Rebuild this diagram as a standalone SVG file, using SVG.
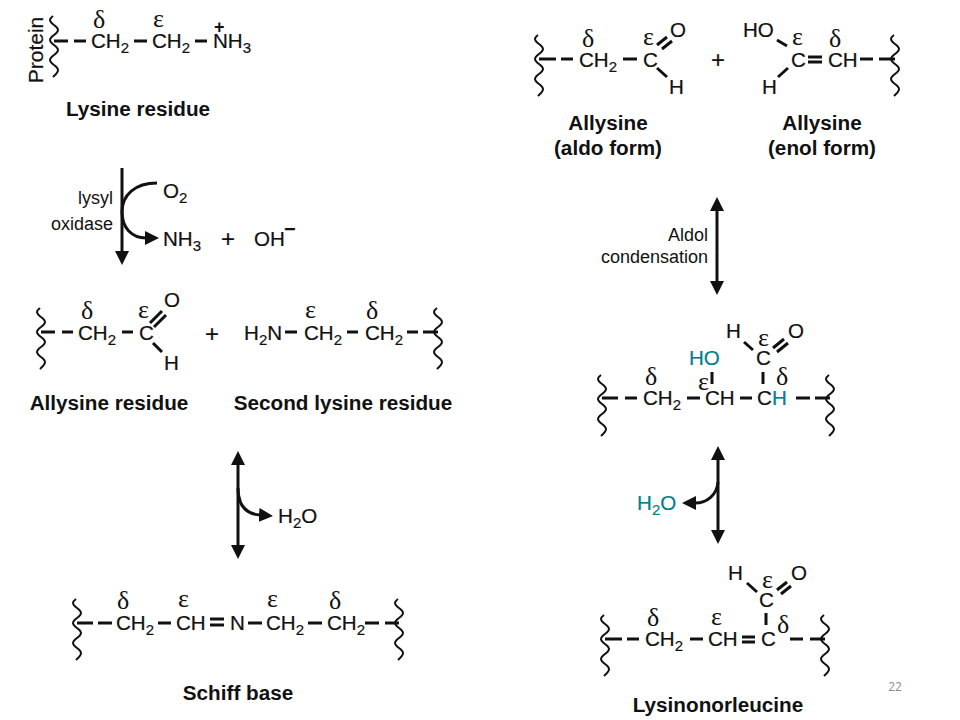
<svg xmlns="http://www.w3.org/2000/svg" xmlns:xlink="http://www.w3.org/1999/xlink" width="960" height="720" viewBox="0 0 960 720">
<style>
text{font-family:"Liberation Sans",Arial,sans-serif;fill:#111}
.a{font-size:20.6px;stroke:#111;stroke-width:.2}
.g{font-family:"Liberation Serif","DejaVu Serif",serif;font-size:26px}
.l{font-size:20.7px;font-weight:bold;text-anchor:middle}
.e{font-size:18px;text-anchor:end}
.p{font-size:24px}
.t{fill:#00808f;stroke:#00808f}
.s{font-size:15px}
.b{stroke:#111;stroke-width:3;fill:none}
.w{stroke:#111;stroke-width:2;fill:none}
.r{stroke:#111;stroke-width:3;fill:none}
.h{fill:#111}
</style>
<defs>
<path id="sq" class="w" d="M-1-30C-3-28.500-4-27.500-4-26C-4-22 4-20 4-16C4-12-4-10-4-6C-4-2 4 0 4 4C4 8-4 10-4 14C-4 18 4 20 4 24C4 27 1 29-1 31"/>
<marker id="ah" viewBox="0 0 14 14" refX="1" refY="7" markerWidth="14" markerHeight="14" markerUnits="userSpaceOnUse" orient="auto-start-reverse"><path class="h" d="M0 0L14 7L0 14Z"/></marker>
</defs>
<rect width="960" height="720" fill="#fff"/>

<g id="lysine-residue">
<text class="a" transform="translate(43 50) rotate(-90)" text-anchor="middle" style="font-size:21px">Protein</text>
<use href="#sq" x="54" y="46"/>
<path class="b" d="M54 41H68M74 41H86M134 41H147M195 41H207"/>
<text class="a" x="91" y="48">CH<tspan class="s" dy="5">2</tspan></text>
<text class="a" x="152" y="48">CH<tspan class="s" dy="5">2</tspan></text>
<text class="a" x="213" y="48">NH<tspan class="s" dy="5">3</tspan></text>
<text x="214" y="33" font-size="18" font-weight="bold">+</text>
<text class="g" x="93" y="28">δ</text>
<text class="g" x="153" y="27">ε</text>
<text class="l" x="138" y="116">Lysine residue</text>
</g>

<g id="lysyl-oxidase-step">
<text class="e" x="113" y="204">lysyl</text>
<text class="e" x="113" y="230">oxidase</text>
<text class="a" x="163" y="198">O<tspan class="s" dy="5">2</tspan></text>
<text class="a" x="163" y="246">NH<tspan class="s" dy="5">3</tspan></text>
<text class="a p" x="221" y="247">+</text>
<text class="a" x="254" y="246">OH</text>
<text x="284" y="236" font-size="20" font-weight="bold">−</text>
</g>

<g id="allysine-residue">
<use href="#sq" x="41" y="338"/>
<path class="b" d="M41 332H55M62 332H73M122 332H133M153 343L162 352M150 323L162 311M154 327L166 315"/>
<text class="a" x="78" y="340">CH<tspan class="s" dy="5">2</tspan></text>
<text class="a" x="139" y="340">C</text>
<text class="a" x="164" y="307">O</text>
<text class="a" x="164" y="370">H</text>
<text class="g" x="81" y="319">δ</text>
<text class="g" x="138" y="318">ε</text>
<text class="l" x="109" y="410">Allysine residue</text>
</g>
<text id="plus-1" class="a p" x="205" y="342">+</text>

<g id="second-lysine-residue">
<use href="#sq" x="438" y="338"/>
<path class="b" d="M285 332H297M347 332H358M407 332H418M423 332H438"/>
<text class="a" x="244" y="340">H<tspan class="s" dy="5">2</tspan><tspan dy="-5">N</tspan></text>
<text class="a" x="304" y="340">CH<tspan class="s" dy="5">2</tspan></text>
<text class="a" x="365" y="340">CH<tspan class="s" dy="5">2</tspan></text>
<text class="g" x="305" y="318">ε</text>
<text class="g" x="366" y="319">δ</text>
<text class="l" x="343" y="410">Second lysine residue</text>
</g>

<g id="water-1"><text class="a" x="278" y="523">H<tspan class="s" dy="5">2</tspan><tspan dy="-5">O</tspan></text></g>

<g id="schiff-base">
<use href="#sq" x="77" y="629"/>
<use href="#sq" x="399" y="629"/>
<path class="b" d="M77 623H93M98 623H112M158 623H171M210 619H224M210 625H224M248 623H262M308 623H322M365 623H379M385 623H399"/>
<text class="a" x="116" y="630">CH<tspan class="s" dy="5">2</tspan></text>
<text class="a" x="176" y="630">CH</text>
<text class="a" x="230" y="630">N</text>
<text class="a" x="266" y="630">CH<tspan class="s" dy="5">2</tspan></text>
<text class="a" x="327" y="630">CH<tspan class="s" dy="5">2</tspan></text>
<text class="g" x="117" y="609">δ</text>
<text class="g" x="178" y="607">ε</text>
<text class="g" x="267" y="607">ε</text>
<text class="g" x="329" y="609">δ</text>
<text class="l" x="238" y="700">Schiff base</text>
</g>

<g id="allysine-aldo">
<use href="#sq" x="539" y="65"/>
<path class="b" d="M539 59H556M561 59H573M623 59H637M657 68L667 77M657 45L667 37M662 49L672 41"/>
<text class="a" x="579" y="67">CH<tspan class="s" dy="5">2</tspan></text>
<text class="a" x="643" y="67">C</text>
<text class="a" x="670" y="37">O</text>
<text class="a" x="669" y="94">H</text>
<text class="g" x="582" y="47">δ</text>
<text class="g" x="643" y="45">ε</text>
<text class="l" x="608" y="130">Allysine</text>
<text class="l" x="608" y="155">(aldo form)</text>
</g>
<text id="plus-2" class="a p" x="711" y="68">+</text>

<g id="allysine-enol">
<use href="#sq" x="895" y="65"/>
<path class="b" d="M777 40L787 46M778 77L788 68M808 57H822M808 62H822M860 59H873M879 59H895"/>
<text class="a" x="743" y="37">HO</text>
<text class="a" x="762" y="94">H</text>
<text class="a" x="791" y="67">C</text>
<text class="a" x="828" y="67">CH</text>
<text class="g" x="792" y="45">ε</text>
<text class="g" x="829" y="47">δ</text>
<text class="l" x="822" y="130">Allysine</text>
<text class="l" x="822" y="155">(enol form)</text>
</g>

<g id="aldol-label">
<text class="e" x="708" y="241">Aldol</text>
<text class="e" x="708" y="263">condensation</text>
</g>

<g id="aldol-product">
<use href="#sq" x="602" y="405"/>
<use href="#sq" x="830" y="405"/>
<path class="b" d="M602 398H618M625 398H637M687 398H700M740 398H752M796 398H810M815 398H830M712 372V384M763 372V384M744 342L753 350M773 348L784 339M777 352L788 343"/>
<text class="a" x="643" y="405">CH<tspan class="s" dy="5">2</tspan></text>
<text class="a" x="705" y="405">CH</text>
<text class="a" x="757" y="405">C<tspan class="t">H</tspan></text>
<text class="a t" x="689" y="365">HO</text>
<text class="a" x="756" y="365">C</text>
<text class="a" x="726" y="338">H</text>
<text class="a" x="788" y="338">O</text>
<text class="g" x="645" y="385">δ</text>
<text class="g" x="698" y="390">ε</text>
<text class="g" x="776" y="385">δ</text>
<text class="g" x="758" y="346">ε</text>
</g>

<g id="water-2"><text class="a t" x="637" y="510">H<tspan class="s t" dy="5">2</tspan><tspan class="t" dy="-5">O</tspan></text></g>

<g id="lysinonorleucine">
<use href="#sq" x="605" y="645"/>
<use href="#sq" x="825" y="645"/>
<path class="b" d="M605 639H622M627 639H639M690 639H703M742 637H755M742 642H755M790 639H803M810 639H825M766 613V625M747 583L757 592M777 590L787 582M781 594L791 586"/>
<text class="a" x="645" y="646">CH<tspan class="s" dy="5">2</tspan></text>
<text class="a" x="708" y="646">CH</text>
<text class="a" x="761" y="646">C</text>
<text class="a" x="759" y="607">C</text>
<text class="a" x="728" y="580">H</text>
<text class="a" x="791" y="580">O</text>
<text class="g" x="647" y="626">δ</text>
<text class="g" x="711" y="625">ε</text>
<text class="g" x="777" y="633">δ</text>
<text class="g" x="762" y="588">ε</text>
<text class="l" x="718" y="712">Lysinonorleucine</text>
</g>

<g id="connectors">
<path class="r" d="M122 168V252" marker-end="url(#ah)"/>
<path class="r" d="M157 183C135 183 122 195 122 212C122 228 132 238 146 238" marker-end="url(#ah)"/>
<path class="r" d="M238 464V546" marker-start="url(#ah)" marker-end="url(#ah)"/>
<path class="r" d="M238 488C238 505 246 514 260 515" marker-end="url(#ah)"/>
<path class="r" d="M717 210V282" marker-start="url(#ah)" marker-end="url(#ah)"/>
<path class="r" d="M718 459V531" marker-start="url(#ah)" marker-end="url(#ah)"/>
<path class="r" d="M718 482C717 495 707 503 695 503" marker-end="url(#ah)"/>
</g>
<text id="page-number" x="895" y="691" font-size="12" text-anchor="middle" style="fill:#8a8a8a;font-family:'Open Sans',sans-serif">22</text>
</svg>
